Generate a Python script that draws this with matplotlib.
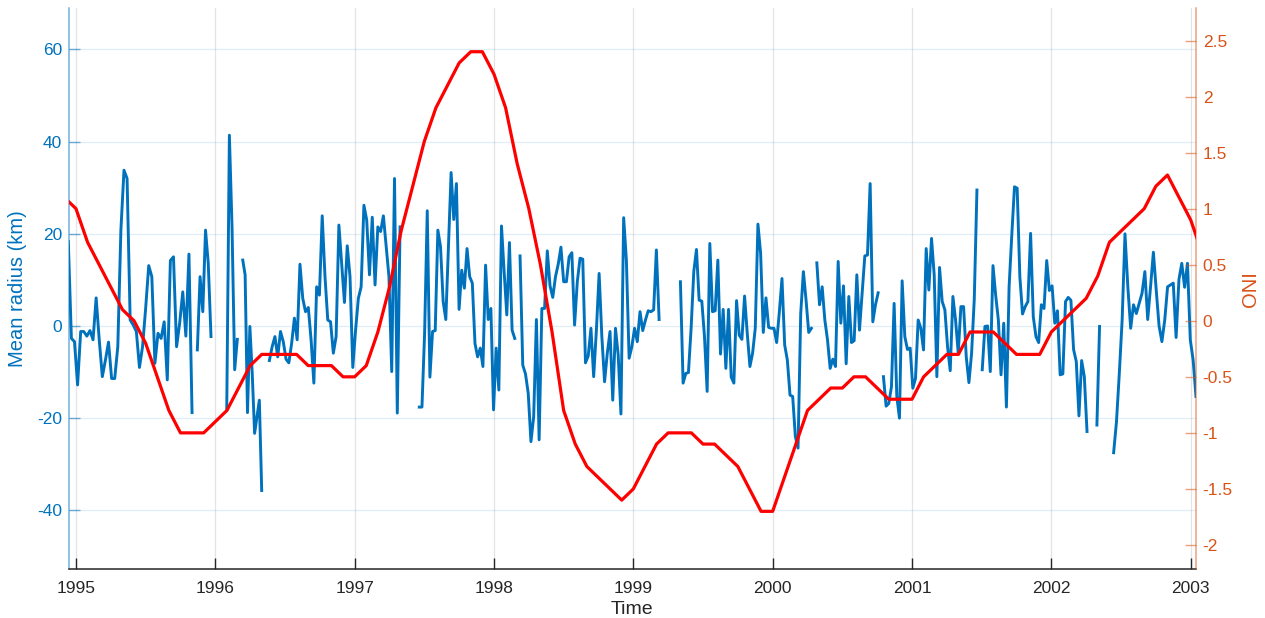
import numpy as np
import matplotlib
matplotlib.use('Agg')
import matplotlib.pyplot as plt

plt.rcParams['font.family'] = ['Liberation Sans', 'DejaVu Sans']
plt.rcParams['axes.unicode_minus'] = False

# ---------------- data ----------------
# ONI (monthly), starting Dec 1994
oni_start = 1994 + 11 / 12.0
oni_values = [1.1,
    1.0, 0.7, 0.5, 0.3, 0.1, 0.0, -0.2, -0.5, -0.8, -1.0, -1.0, -1.0,
    -0.9, -0.8, -0.6, -0.4, -0.3, -0.3, -0.3, -0.3, -0.4, -0.4, -0.4, -0.5,
    -0.5, -0.4, -0.1, 0.3, 0.8, 1.2, 1.6, 1.9, 2.1, 2.3, 2.4, 2.4,
    2.2, 1.9, 1.4, 1.0, 0.5, -0.1, -0.8, -1.1, -1.3, -1.4, -1.5, -1.6,
    -1.5, -1.3, -1.1, -1.0, -1.0, -1.0, -1.1, -1.1, -1.2, -1.3, -1.5, -1.7,
    -1.7, -1.4, -1.1, -0.8, -0.7, -0.6, -0.6, -0.5, -0.5, -0.6, -0.7, -0.7,
    -0.7, -0.5, -0.4, -0.3, -0.3, -0.1, -0.1, -0.1, -0.2, -0.3, -0.3, -0.3,
    -0.1, 0.0, 0.1, 0.2, 0.4, 0.7, 0.8, 0.9, 1.0, 1.2, 1.3, 1.1,
    0.9, 0.6]

# Mean radius (km): continuous segments (start year, end year, values)
seg1_span = (1994.945, 1995.833)
seg1 = [18.3, -2.7, -3.4, -12.8, -1.2, -1.2, -2.2, -1.0, -3.0, 6.1, -3.0, -11.0,
        -7.4, -3.5, -11.4, -11.4, -4.5, 20.8, 33.8, 32.0, 1.3, 0.2, -1.2, -9.0,
        -4.5, 3.8, 13.1, 10.7, -8.1, -1.6, -2.7, 0.9, -11.7, 14.2, 15.0, -4.5,
        0.6, 7.4, -2.2, 15.6, -18.8]
seg2_span = (1995.871, 1995.969)
seg2 = [-5.2, 10.7, 3.1, 20.8, 13.6, -2.3]
seg3_span = (1996.082, 1996.158)
seg3 = [-18.2, 41.4, 21.5, -9.5, -2.9]
seg4_span = (1996.197, 1996.333)
seg4 = [14.3, 11.1, -18.8, -0.1, -10.3, -23.3, -19.7, -16.1, -35.7]
seg5_span = (1996.388, 1997.326)
seg5 = [-7.5, -4.5, -2.3, -6.7, -1.2, -3.4, -7.2, -8.0, -3.8, 1.7, -3.0, 13.4,
        6.0, 3.1, 4.0, -3.0, -12.4, 8.5, 6.7, 23.9, 10.7, 1.3, 0.9, -5.9, -2.3,
        21.9, 13.6, 5.1, 17.4, 10.7, -9.0, -0.9, 6.0, 8.5, 26.2, 23.0, 11.1,
        23.6, 8.9, 21.5, 20.5, 23.9, 17.4, 10.7, -9.9, 32.0, -18.9, 21.5]
seg6_span = (1997.464, 1998.149)
seg6 = [-17.6, -17.6, -1.6, 25.0, -11.1, -1.2, -1.0, 20.8, 17.2, 5.3, 1.4, 17.2,
        33.3, 23.1, 30.9, 3.6, 12.1, 8.2, 16.8, 10.7, 9.3, -3.8, -6.7, -4.8,
        -8.8, 13.2, 1.4, 3.8, -18.2, -4.8, -13.9, 21.7, 11.8, 2.4, 18.1, -0.9, -2.7]
seg7_span = (1998.187, 1999.185)
seg7 = [15.2, -8.5, -10.4, -14.6, -25.1, -19.7, 1.4, -24.7, 3.8, 3.8,
        16.3, 8.7, 6.2, 10.7, 13.4, 17.1, 9.6, 9.6, 15.0, 15.9, 0.2, 9.6, 14.7,
        14.5, -8.0, -6.5, -0.5, -11.0, -0.9, 11.4, -2.3, -12.1, -5.9, -1.2,
        -16.1, -0.5, -6.3, -19.1, 23.5, 14.3, -7.0, -4.5, -0.5, -3.4, 3.1, -1.0,
        1.3, 3.3, 3.1, 3.5, 16.5, 1.4]
seg8_span = (1999.338, 2000.278)
seg8 = [9.6, -12.4, -10.3, -10.1, -0.5, 11.8, 16.6, 5.6, 5.4, -2.3, -14.2, 17.9,
        3.1, 3.3, 14.3, -6.1, 3.6, -9.2, 3.6, -11.1, -12.4, 5.5, -2.0, -2.9, 6.5,
        -1.6, -8.8, -5.9, -0.5, 22.1, 15.8, -1.4, 6.1, -0.3, -0.5, -0.5, -3.6,
        3.0, 10.3, -4.1, -7.4, -15.0, -15.3, -24.0, -26.5, 2.7, 11.8, 5.6, -1.4, -0.5]
seg9_span = (2000.317, 2000.757)
seg9 = [13.7, 4.6, 8.5, 1.3, -3.0, -9.2, -7.2, -8.8, 14.0, 0.6, 8.7, -8.2, 6.4,
        -3.6, -3.2, 11.1, -0.9, 7.1, 15.2, 15.4, 30.9, 0.9, 4.6, 7.2]
seg10_span = (2000.795, 2001.466)
seg10 = [-11.0, -17.4, -16.8, -13.2, 4.9, -15.3, -20.0, 9.8, -2.3, -5.1, -4.8,
         -13.5, -11.4, 1.3, -0.5, -5.2, 16.8, 7.8, 19.0, 11.1, -11.0, 12.7, 5.3,
         3.5, -4.5, -9.7, 6.4, 1.3, -5.9, 4.2, 4.2, -6.7, -12.3, -5.9, 5.8, 29.5]
seg11_span = (2001.504, 2002.256)
seg11 = [-9.5, -0.1, 0.0, -9.9, 13.1, 6.7, 1.3, -10.6, 0.6, -17.6, 8.5, 19.7,
         30.2, 29.9, 10.7, 2.6, 4.2, 5.3, 20.1, 2.0, -2.3, -3.6, 4.6, 3.8, 14.2,
         7.7, 8.7, 0.6, 3.3, -10.6, -10.4, 5.3, 6.2, 5.6, -5.1, -7.7, -19.5,
         -7.5, -11.0, -22.9]
seg12_span = (2002.327, 2002.346)
seg12 = [-21.5, -0.1]
seg13_span = (2002.447, 2003.038)
seg13 = [-27.5, -20.8, -10.3, 1.3, 20.0, 8.5, -0.5, 4.6, 2.7, 4.9, 7.1, 11.8,
         1.4, 8.5, 16.0, 7.8, 0.0, -3.4, 1.3, 8.5, 8.9, 9.3, -2.5, 10.1, 13.6,
         8.4, 13.6, -3.0, -7.4, -15.3]

segments = [(seg1_span, seg1), (seg2_span, seg2), (seg3_span, seg3),
            (seg4_span, seg4), (seg5_span, seg5), (seg6_span, seg6),
            (seg7_span, seg7), (seg8_span, seg8), (seg9_span, seg9),
            (seg10_span, seg10), (seg11_span, seg11), (seg12_span, seg12),
            (seg13_span, seg13)]

year_ticks = [1995, 1996, 1997, 1998, 1999, 2000, 2001, 2002, 2003]
left_ticks = [-40, -20, 0, 20, 40, 60]
right_ticks = [-2, -1.5, -1, -0.5, 0, 0.5, 1, 1.5, 2, 2.5]
right_ticklabels = ['-2', '-1.5', '-1', '-0.5', '0', '0.5', '1', '1.5', '2', '2.5']

# ---------------- build series ----------------
bt, bv = [], []
for (t0, t1), vals in segments:
    t = np.linspace(t0, t1, len(vals))
    bt.extend(list(t)); bv.extend(vals)
    bt.append(t1 + 0.005); bv.append(np.nan)
bt = np.array(bt); bv = np.array(bv, dtype=float)

oni_t = oni_start + np.arange(len(oni_values)) / 12.0

# ---------------- plot ----------------
BLUE = '#0072BD'
ORANGE = '#D95319'
DARK = '#262626'

fig = plt.figure(figsize=(12.65, 6.18), dpi=100)
ax = fig.add_axes([69 / 1265, (618 - 569.3) / 618, (1195.7 - 69) / 1265, (569.3 - 8) / 618])
ax2 = ax.twinx()

ax.plot(bt, bv, color=BLUE, lw=2.1, solid_joinstyle='round', zorder=3)
ax2.plot(oni_t, oni_values, color='#FF0000', lw=2.3, solid_joinstyle='round', zorder=3)

ax.set_xlim(1994.95, 2003.036)
ax.set_ylim(-52.8, 69.0)
ax2.set_ylim(-2.217, 2.79)

ax.set_xticks(year_ticks)
ax.set_xticklabels([str(y) for y in year_ticks])
ax.set_yticks(left_ticks)
ax.set_yticklabels([str(v) for v in left_ticks])
ax2.set_yticks(right_ticks)
ax2.set_yticklabels(right_ticklabels)

# grid
ax.grid(True, axis='y', color=BLUE, alpha=0.12, lw=0.9)
ax.grid(True, axis='x', color=DARK, alpha=0.12, lw=0.9)
ax.set_axisbelow(True)

# spines
for a in (ax, ax2):
    a.spines['top'].set_visible(False)
ax.spines['right'].set_visible(False)
ax2.spines['left'].set_visible(False)
ax2.spines['bottom'].set_visible(False)
ax.spines['left'].set_color(BLUE); ax.spines['left'].set_alpha(0.55)
ax2.spines['right'].set_color(ORANGE); ax2.spines['right'].set_alpha(0.55)
ax.spines['bottom'].set_color(DARK)
for s in (ax.spines['left'], ax2.spines['right'], ax.spines['bottom']):
    s.set_linewidth(1.1)

tl = 7.9
ax.tick_params(axis='x', direction='in', length=tl, width=1.0, color=DARK,
               labelcolor=DARK, labelsize=12.5, pad=8.5)
ax.tick_params(axis='y', direction='in', length=tl, width=1.0, color=(0, 0.447, 0.741, 0.55),
               labelcolor=BLUE, labelsize=12.5, pad=5)
ax2.tick_params(axis='y', direction='in', length=tl, width=1.0, color=(0.85, 0.325, 0.098, 0.55),
                labelcolor=ORANGE, labelsize=12.5, pad=5)

ax.set_xlabel('Time', color=DARK, fontsize=14, labelpad=3.5)
ax.set_ylabel('Mean radius (km)', color=BLUE, fontsize=14.5, labelpad=7)
ax2.set_ylabel('ONI', color=ORANGE, fontsize=14.5, labelpad=6)

fig.savefig('out.png', dpi=100)
